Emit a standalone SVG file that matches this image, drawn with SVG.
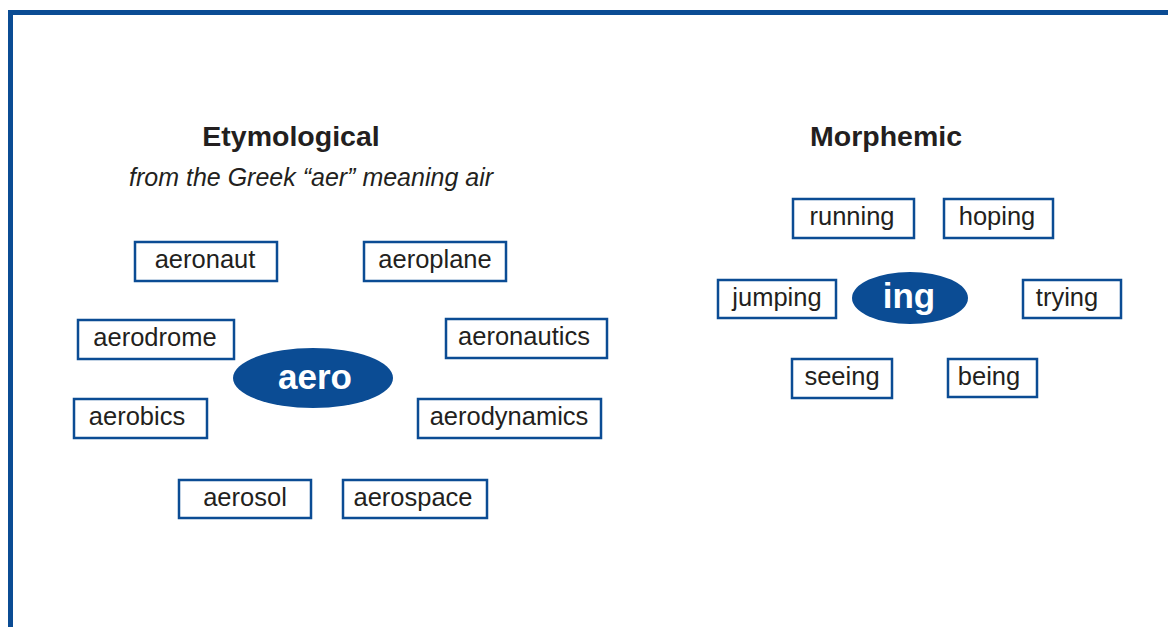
<svg xmlns="http://www.w3.org/2000/svg" width="1168" height="627" viewBox="0 0 1168 627">
<style>
.frame{fill:none;stroke:#0b4c94;stroke-width:5}
.box{fill:#fff;stroke:#0b4c94;stroke-width:2.5}
.hub{fill:#0b4c94}
.t{font-family:"Liberation Sans",Arial,sans-serif;font-size:25.5px;fill:#231f20;text-anchor:middle}
.hubt{font-family:"Liberation Sans",Arial,sans-serif;font-weight:bold;font-size:35px;fill:#fff;text-anchor:middle}
.title{font-family:"Liberation Sans",Arial,sans-serif;font-weight:bold;font-size:28.5px;fill:#231f20;text-anchor:middle}
.sub{font-family:"Liberation Sans",Arial,sans-serif;font-style:italic;font-size:25px;fill:#231f20;text-anchor:middle}
</style>
<rect width="1168" height="627" fill="#fff"/>
<path class="frame" d="M10.5 640 V12.5 H1180"/>
<text class="title" x="291" y="146">Etymological</text>
<text class="sub" x="311" y="186">from the Greek “aer” meaning air</text>
<text class="title" x="886" y="146">Morphemic</text>
<g id="connectors"></g>
<g id="aero"><ellipse class="hub" cx="313" cy="378" rx="80" ry="30"/><text class="hubt" x="315" y="389">aero</text></g>
<g id="aeronaut"><rect class="box" x="135" y="242" width="142" height="39"/><text class="t" x="205" y="268">aeronaut</text></g>
<g id="aeroplane"><rect class="box" x="364" y="242" width="142" height="39"/><text class="t" x="435" y="268">aeroplane</text></g>
<g id="aerodrome"><rect class="box" x="78" y="320" width="156" height="39"/><text class="t" x="155" y="346">aerodrome</text></g>
<g id="aeronautics"><rect class="box" x="446" y="319" width="161" height="39"/><text class="t" x="524" y="345">aeronautics</text></g>
<g id="aerobics"><rect class="box" x="74" y="399" width="133" height="39"/><text class="t" x="137" y="425">aerobics</text></g>
<g id="aerodynamics"><rect class="box" x="418" y="399" width="183" height="39"/><text class="t" x="509" y="425">aerodynamics</text></g>
<g id="aerosol"><rect class="box" x="179" y="480" width="132" height="38"/><text class="t" x="245" y="506">aerosol</text></g>
<g id="aerospace"><rect class="box" x="343" y="480" width="144" height="38"/><text class="t" x="413" y="506">aerospace</text></g>
<g id="ing"><ellipse class="hub" cx="910" cy="298" rx="58" ry="26"/><text class="hubt" x="909" y="308">ing</text></g>
<g id="running"><rect class="box" x="793" y="199" width="121" height="39"/><text class="t" x="852" y="225">running</text></g>
<g id="hoping"><rect class="box" x="944" y="199" width="109" height="39"/><text class="t" x="997" y="225">hoping</text></g>
<g id="jumping"><rect class="box" x="718" y="280" width="118" height="38"/><text class="t" x="777" y="306">jumping</text></g>
<g id="trying"><rect class="box" x="1023" y="280" width="98" height="38"/><text class="t" x="1067" y="306">trying</text></g>
<g id="seeing"><rect class="box" x="792" y="359" width="100" height="39"/><text class="t" x="842" y="385">seeing</text></g>
<g id="being"><rect class="box" x="948" y="359" width="89" height="38"/><text class="t" x="989" y="385">being</text></g>
</svg>
